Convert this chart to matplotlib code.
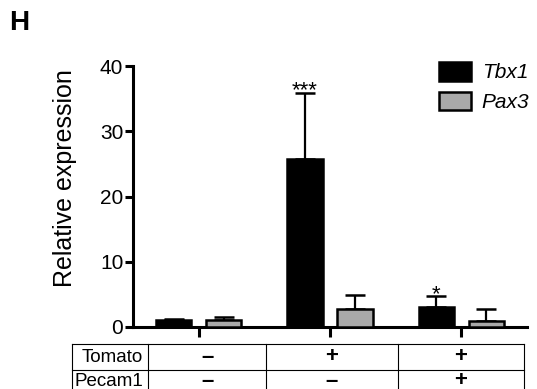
import matplotlib
matplotlib.use('Agg')
import matplotlib.pyplot as plt
import numpy as np

plt.rcParams['font.family'] = ['Liberation Sans', 'DejaVu Sans']

GENES = ['Tbx1', 'Pax3']
TBX1 = [1.0, 25.7, 3.1]
TBX1_ERR = [0.2, 10.2, 1.6]
PAX3 = [1.1, 2.8, 0.9]
PAX3_ERR = [0.5, 2.1, 1.9]
STARS = ['', '***', '*']
TOMATO = ['\u2013', '+', '+']
PECAM1 = ['\u2013', '\u2013', '+']
COLORS = ['black', '#a9a9a9']

W, H = 537, 389
fig = plt.figure(figsize=(W / 100, H / 100), dpi=100)
ax = fig.add_axes([133 / W, 1 - 327 / H, (527 - 133) / W, (327 - 66) / H])

x = np.arange(len(TBX1))
off, bw = 0.19, 0.27
for vals, errs, col, lab, sgn in [(TBX1, TBX1_ERR, COLORS[0], GENES[0], -1),
                                  (PAX3, PAX3_ERR, COLORS[1], GENES[1], 1)]:
    ax.bar(x + sgn * off, vals, bw, color=col, edgecolor='black', linewidth=1.8,
           label=lab, zorder=3)
    ax.errorbar(x + sgn * off, vals, yerr=[np.zeros(len(vals)), errs], fmt='none',
                ecolor='black', elinewidth=1.6, capsize=7, capthick=1.8, zorder=2)

for i, s in enumerate(STARS):
    if s:
        ax.text(x[i] - off, TBX1[i] + TBX1_ERR[i] - 1.3, s, ha='center', va='bottom',
                fontsize=16)

ax.set_xlim(-0.5, 2.5)
ax.set_ylim(0, 40)
ax.set_yticks([0, 10, 20, 30, 40])
ax.set_xticks(x)
ax.set_xticklabels([])
for sp in ['top', 'right']:
    ax.spines[sp].set_visible(False)
for sp in ['left', 'bottom']:
    ax.spines[sp].set_linewidth(2.2)
ax.tick_params(axis='y', length=6, width=2.2, labelsize=15, pad=1)
ax.tick_params(axis='x', length=7, width=2.2)
ax.set_ylabel('Relative expression', fontsize=18)
ax.yaxis.set_label_coords(-0.142, (327 - 178) / 261)

leg = ax.legend(loc='upper left', bbox_to_anchor=(439 / W, 1 - 62 / H),
                bbox_transform=fig.transFigure, frameon=False,
                handlelength=1.55, handleheight=1.0, handletextpad=0.5,
                labelspacing=0.45, borderpad=0, borderaxespad=0,
                prop={'style': 'italic', 'size': 15})

fig.text(9 / W, 1 - 23 / H, 'H', fontsize=20, fontweight='bold', va='center')

# condition table below the axis
tab = fig.add_axes([72 / W, 1 - 396 / H, (524 - 72) / W, 52 / H])
tab.set_xlim(72, 524)
tab.set_ylim(396, 344)
tab.axis('off')
cols = [72, 148, 266, 398, 524]
rows = [344, 370, 396]
for cx in cols:
    tab.plot([cx, cx], [rows[0], rows[-1]], color='black', lw=0.8, clip_on=False)
for ry in rows:
    tab.plot([cols[0], cols[-1]], [ry, ry], color='black', lw=0.8, clip_on=False)
for r, (name, signs) in enumerate([('Tomato', TOMATO), ('Pecam1', PECAM1)]):
    yc = (rows[r] + rows[r + 1]) / 2 - (2 if r else 0)
    tab.text(cols[1] - 5, yc, name, ha='right', va='center', fontsize=13.5)
    for j, s in enumerate(signs):
        tab.text((cols[j + 1] + cols[j + 2]) / 2, yc, s, ha='center', va='center',
                 fontsize=16, fontweight='bold')

fig.savefig('out.png', dpi=100)
